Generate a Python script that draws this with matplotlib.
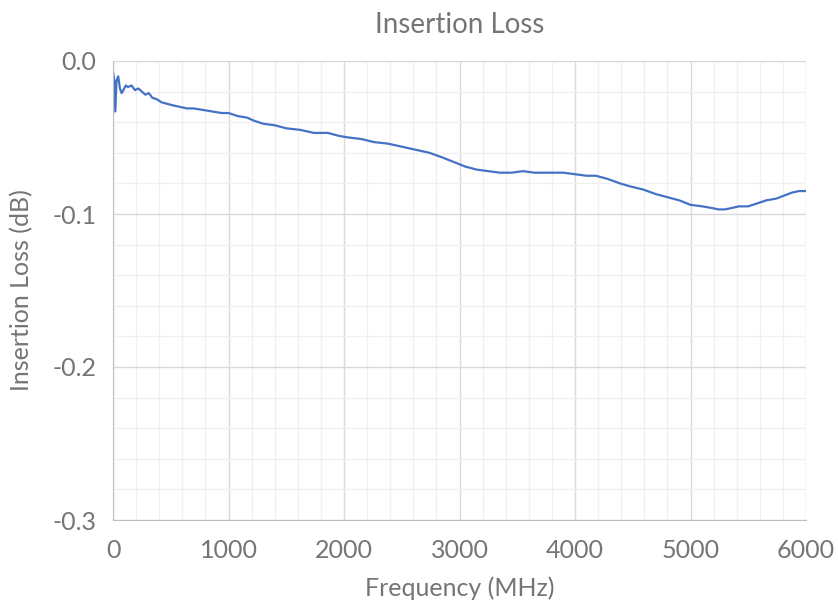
import matplotlib.pyplot as plt
from matplotlib.ticker import MultipleLocator

plt.rcParams['font.family'] = ['Lato', 'DejaVu Sans']

# frequency (MHz) and insertion loss (dB)
freq = [0, 10, 20, 30, 45, 60, 75, 90, 110, 130, 160, 190, 220, 250, 280, 310, 340,
        380, 420, 470, 520, 580, 640, 700, 780, 860, 940, 1000, 1080, 1160, 1220,
        1300, 1400, 1500, 1620, 1740, 1860, 1960, 2040, 2150, 2260, 2380, 2500,
        2620, 2740, 2850, 2950, 3050, 3150, 3250, 3350, 3450, 3550, 3650, 3780,
        3900, 4000, 4100, 4180, 4280, 4390, 4480, 4590, 4700, 4800, 4900, 5000,
        5100, 5180, 5240, 5300, 5360, 5420, 5500, 5580, 5660, 5740, 5810, 5880,
        5940, 6000]
loss = [-0.007, -0.012, -0.033, -0.013, -0.010, -0.018, -0.021, -0.019, -0.016,
        -0.017, -0.016, -0.019, -0.018, -0.020, -0.022, -0.021, -0.024, -0.025,
        -0.027, -0.028, -0.029, -0.030, -0.031, -0.031, -0.032, -0.033, -0.034,
        -0.034, -0.036, -0.037, -0.039, -0.041, -0.042, -0.044, -0.045, -0.047,
        -0.047, -0.049, -0.050, -0.051, -0.053, -0.054, -0.056, -0.058, -0.060,
        -0.063, -0.066, -0.069, -0.071, -0.072, -0.073, -0.073, -0.072, -0.073,
        -0.073, -0.073, -0.074, -0.075, -0.075, -0.077, -0.080, -0.082, -0.084,
        -0.087, -0.089, -0.091, -0.094, -0.095, -0.096, -0.097, -0.097, -0.096,
        -0.095, -0.095, -0.093, -0.091, -0.090, -0.088, -0.086, -0.085, -0.085]

fig = plt.figure(figsize=(8.38, 6.08), dpi=100)
ax = fig.add_axes([113 / 838, 1 - 520 / 608, 693 / 838, 459 / 608])

ax.plot(freq, loss, color='#4472C4', linewidth=1.6)

ax.set_xlim(0, 6000)
ax.set_ylim(-0.3, 0)
ax.xaxis.set_major_locator(MultipleLocator(1000))
ax.xaxis.set_minor_locator(MultipleLocator(200))
ax.yaxis.set_major_locator(MultipleLocator(0.1))
ax.yaxis.set_minor_locator(MultipleLocator(0.02))
ax.set_yticks([0, -0.1, -0.2, -0.3])
ax.set_yticklabels(['0.0', '-0.1', '-0.2', '-0.3'])

ax.grid(which='major', color='#D9D9D9', linewidth=1)
ax.grid(which='minor', color='#F0F0F0', linewidth=1)
ax.set_axisbelow(True)

for s in ['top', 'right']:
    ax.spines[s].set_visible(False)
for s in ['left', 'bottom']:
    ax.spines[s].set_color('#BFBFBF')

ax.tick_params(which='both', length=0, labelsize=18, colors='#757575')
ax.tick_params(axis='x', pad=14)
ax.tick_params(axis='y', pad=12)

ax.set_title('Insertion Loss', fontsize=20, color='#757575', pad=20)
ax.set_xlabel('Frequency (MHz)', fontsize=18, color='#757575', labelpad=10)
ax.set_ylabel('Insertion Loss (dB)', fontsize=18, color='#757575', labelpad=14)

fig.savefig('out.png', dpi=100)
